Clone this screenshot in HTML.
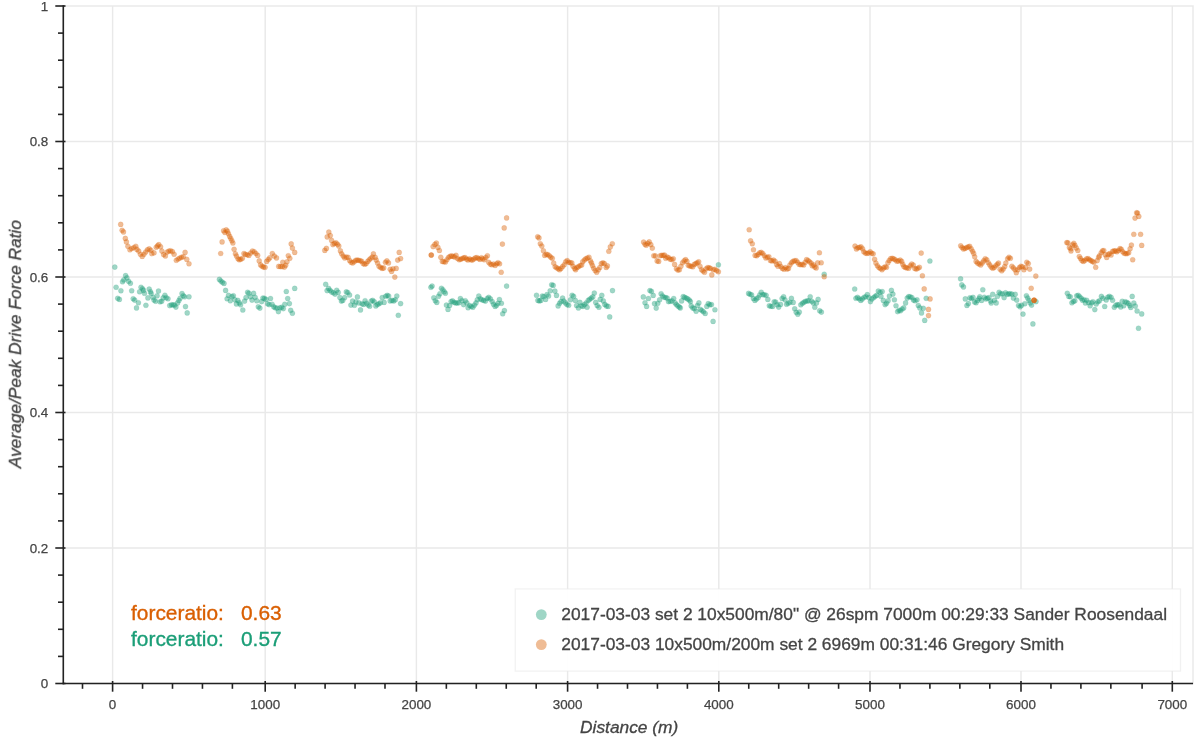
<!DOCTYPE html>
<html lang="en"><head><meta charset="utf-8"><title>Average/Peak Drive Force Ratio</title>
<style>html,body{margin:0;padding:0;background:#fff;}body{width:1199px;height:743px;overflow:hidden;}</style>
</head><body>
<svg width="1199" height="743" viewBox="0 0 1199 743" style="display:block;font-family:'Liberation Sans', Arial, Helvetica, sans-serif">
<defs><filter id="idf" x="0" y="0" width="100%" height="100%" filterUnits="userSpaceOnUse" color-interpolation-filters="sRGB"><feOffset dx="0" dy="0"/></filter></defs>
<rect x="0" y="0" width="1199" height="743" fill="#ffffff"/>
<g stroke="#e9e9e9" stroke-width="1.45" fill="none">
<line x1="112.60" y1="6.0" x2="112.60" y2="683.5"/>
<line x1="265.20" y1="6.0" x2="265.20" y2="683.5"/>
<line x1="416.40" y1="6.0" x2="416.40" y2="683.5"/>
<line x1="567.60" y1="6.0" x2="567.60" y2="683.5"/>
<line x1="718.80" y1="6.0" x2="718.80" y2="683.5"/>
<line x1="870.00" y1="6.0" x2="870.00" y2="683.5"/>
<line x1="1021.00" y1="6.0" x2="1021.00" y2="683.5"/>
<line x1="1172.30" y1="6.0" x2="1172.30" y2="683.5"/>
<line x1="63.3" y1="548.00" x2="1193.0" y2="548.00"/>
<line x1="63.3" y1="412.50" x2="1193.0" y2="412.50"/>
<line x1="63.3" y1="277.00" x2="1193.0" y2="277.00"/>
<line x1="63.3" y1="141.50" x2="1193.0" y2="141.50"/>
<rect x="63.3" y="6.0" width="1129.7" height="677.5"/>
</g>
<g fill="#1b9e77" fill-opacity="0.42" stroke="#1b9e77" stroke-opacity="0.16" stroke-width="0.7">
<circle cx="114.8" cy="267.1" r="2.55"/>
<circle cx="116.1" cy="287.2" r="2.55"/>
<circle cx="117.7" cy="298.3" r="2.55"/>
<circle cx="119.4" cy="299.4" r="2.55"/>
<circle cx="120.9" cy="290.7" r="2.55"/>
<circle cx="122.5" cy="281.7" r="2.55"/>
<circle cx="123.8" cy="279.9" r="2.55"/>
<circle cx="125.6" cy="275.6" r="2.55"/>
<circle cx="126.9" cy="277.9" r="2.55"/>
<circle cx="128.6" cy="281.2" r="2.55"/>
<circle cx="130.4" cy="283.2" r="2.55"/>
<circle cx="131.7" cy="290.7" r="2.55"/>
<circle cx="133.2" cy="298.7" r="2.55"/>
<circle cx="134.7" cy="300.1" r="2.55"/>
<circle cx="136.5" cy="307.9" r="2.55"/>
<circle cx="138.4" cy="302.7" r="2.55"/>
<circle cx="139.6" cy="291.7" r="2.55"/>
<circle cx="141.0" cy="287.2" r="2.55"/>
<circle cx="142.6" cy="288.7" r="2.55"/>
<circle cx="143.5" cy="290.4" r="2.55"/>
<circle cx="144.5" cy="293.3" r="2.55"/>
<circle cx="145.9" cy="305.3" r="2.55"/>
<circle cx="147.9" cy="297.9" r="2.55"/>
<circle cx="149.2" cy="289.1" r="2.55"/>
<circle cx="150.5" cy="291.7" r="2.55"/>
<circle cx="151.2" cy="293.5" r="2.55"/>
<circle cx="152.9" cy="297.2" r="2.55"/>
<circle cx="154.0" cy="300.1" r="2.55"/>
<circle cx="155.6" cy="301.2" r="2.55"/>
<circle cx="157.1" cy="295.7" r="2.55"/>
<circle cx="158.5" cy="291.0" r="2.55"/>
<circle cx="160.1" cy="301.8" r="2.55"/>
<circle cx="161.7" cy="301.2" r="2.55"/>
<circle cx="163.2" cy="297.9" r="2.55"/>
<circle cx="164.9" cy="295.2" r="2.55"/>
<circle cx="166.2" cy="297.7" r="2.55"/>
<circle cx="168.0" cy="298.7" r="2.55"/>
<circle cx="169.7" cy="305.6" r="2.55"/>
<circle cx="171.5" cy="304.7" r="2.55"/>
<circle cx="173.1" cy="304.9" r="2.55"/>
<circle cx="174.6" cy="305.0" r="2.55"/>
<circle cx="175.9" cy="307.1" r="2.55"/>
<circle cx="177.6" cy="302.9" r="2.55"/>
<circle cx="178.9" cy="300.5" r="2.55"/>
<circle cx="180.1" cy="298.3" r="2.55"/>
<circle cx="182.0" cy="293.5" r="2.55"/>
<circle cx="183.3" cy="295.7" r="2.55"/>
<circle cx="184.6" cy="296.8" r="2.55"/>
<circle cx="185.5" cy="306.6" r="2.55"/>
<circle cx="187.2" cy="312.9" r="2.55"/>
<circle cx="189.0" cy="296.8" r="2.55"/>
<circle cx="219.4" cy="279.4" r="2.55"/>
<circle cx="220.9" cy="281.0" r="2.55"/>
<circle cx="222.4" cy="282.3" r="2.55"/>
<circle cx="224.0" cy="283.4" r="2.55"/>
<circle cx="225.6" cy="290.4" r="2.55"/>
<circle cx="227.1" cy="298.7" r="2.55"/>
<circle cx="228.5" cy="295.4" r="2.55"/>
<circle cx="230.3" cy="300.7" r="2.55"/>
<circle cx="231.9" cy="296.6" r="2.55"/>
<circle cx="233.4" cy="295.7" r="2.55"/>
<circle cx="234.9" cy="299.8" r="2.55"/>
<circle cx="236.4" cy="303.9" r="2.55"/>
<circle cx="237.8" cy="300.4" r="2.55"/>
<circle cx="239.3" cy="302.9" r="2.55"/>
<circle cx="240.6" cy="304.8" r="2.55"/>
<circle cx="242.8" cy="310.0" r="2.55"/>
<circle cx="244.6" cy="301.1" r="2.55"/>
<circle cx="246.0" cy="297.6" r="2.55"/>
<circle cx="247.6" cy="292.2" r="2.55"/>
<circle cx="248.9" cy="293.2" r="2.55"/>
<circle cx="250.4" cy="296.7" r="2.55"/>
<circle cx="252.0" cy="300.1" r="2.55"/>
<circle cx="253.6" cy="293.4" r="2.55"/>
<circle cx="255.1" cy="297.2" r="2.55"/>
<circle cx="256.8" cy="300.7" r="2.55"/>
<circle cx="258.3" cy="306.8" r="2.55"/>
<circle cx="259.9" cy="308.1" r="2.55"/>
<circle cx="261.6" cy="301.6" r="2.55"/>
<circle cx="262.9" cy="298.1" r="2.55"/>
<circle cx="264.4" cy="298.3" r="2.55"/>
<circle cx="266.0" cy="299.4" r="2.55"/>
<circle cx="267.6" cy="303.7" r="2.55"/>
<circle cx="269.1" cy="304.6" r="2.55"/>
<circle cx="270.5" cy="298.5" r="2.55"/>
<circle cx="272.1" cy="304.2" r="2.55"/>
<circle cx="273.7" cy="306.8" r="2.55"/>
<circle cx="275.2" cy="307.7" r="2.55"/>
<circle cx="276.9" cy="308.1" r="2.55"/>
<circle cx="278.4" cy="311.6" r="2.55"/>
<circle cx="280.0" cy="307.7" r="2.55"/>
<circle cx="281.7" cy="307.2" r="2.55"/>
<circle cx="283.3" cy="308.6" r="2.55"/>
<circle cx="284.8" cy="304.2" r="2.55"/>
<circle cx="286.3" cy="291.5" r="2.55"/>
<circle cx="287.7" cy="298.5" r="2.55"/>
<circle cx="289.4" cy="303.6" r="2.55"/>
<circle cx="290.7" cy="310.3" r="2.55"/>
<circle cx="292.4" cy="313.2" r="2.55"/>
<circle cx="294.7" cy="288.4" r="2.55"/>
<circle cx="325.7" cy="284.3" r="2.55"/>
<circle cx="327.1" cy="290.6" r="2.55"/>
<circle cx="328.6" cy="288.4" r="2.55"/>
<circle cx="330.0" cy="290.2" r="2.55"/>
<circle cx="331.6" cy="291.9" r="2.55"/>
<circle cx="333.4" cy="292.8" r="2.55"/>
<circle cx="335.1" cy="294.1" r="2.55"/>
<circle cx="336.7" cy="290.2" r="2.55"/>
<circle cx="338.2" cy="292.4" r="2.55"/>
<circle cx="339.9" cy="297.6" r="2.55"/>
<circle cx="341.4" cy="301.1" r="2.55"/>
<circle cx="342.8" cy="300.4" r="2.55"/>
<circle cx="344.7" cy="297.6" r="2.55"/>
<circle cx="346.3" cy="291.9" r="2.55"/>
<circle cx="347.8" cy="292.5" r="2.55"/>
<circle cx="349.6" cy="295.0" r="2.55"/>
<circle cx="350.9" cy="305.1" r="2.55"/>
<circle cx="352.6" cy="301.1" r="2.55"/>
<circle cx="354.4" cy="305.3" r="2.55"/>
<circle cx="355.9" cy="302.0" r="2.55"/>
<circle cx="357.4" cy="296.9" r="2.55"/>
<circle cx="358.9" cy="302.9" r="2.55"/>
<circle cx="360.5" cy="309.9" r="2.55"/>
<circle cx="362.1" cy="303.7" r="2.55"/>
<circle cx="363.6" cy="304.4" r="2.55"/>
<circle cx="365.1" cy="300.7" r="2.55"/>
<circle cx="366.6" cy="303.3" r="2.55"/>
<circle cx="368.2" cy="305.1" r="2.55"/>
<circle cx="369.7" cy="306.2" r="2.55"/>
<circle cx="371.2" cy="301.1" r="2.55"/>
<circle cx="372.7" cy="300.4" r="2.55"/>
<circle cx="374.3" cy="301.8" r="2.55"/>
<circle cx="375.8" cy="305.9" r="2.55"/>
<circle cx="377.3" cy="304.6" r="2.55"/>
<circle cx="378.9" cy="303.7" r="2.55"/>
<circle cx="380.4" cy="302.7" r="2.55"/>
<circle cx="382.2" cy="297.6" r="2.55"/>
<circle cx="384.1" cy="302.4" r="2.55"/>
<circle cx="385.7" cy="296.3" r="2.55"/>
<circle cx="387.2" cy="295.4" r="2.55"/>
<circle cx="388.7" cy="296.0" r="2.55"/>
<circle cx="390.2" cy="300.9" r="2.55"/>
<circle cx="392.0" cy="300.4" r="2.55"/>
<circle cx="393.7" cy="300.9" r="2.55"/>
<circle cx="395.3" cy="299.8" r="2.55"/>
<circle cx="396.8" cy="296.0" r="2.55"/>
<circle cx="398.3" cy="315.3" r="2.55"/>
<circle cx="400.6" cy="303.6" r="2.55"/>
<circle cx="430.9" cy="287.3" r="2.55"/>
<circle cx="432.1" cy="286.1" r="2.55"/>
<circle cx="433.8" cy="297.8" r="2.55"/>
<circle cx="435.3" cy="300.7" r="2.55"/>
<circle cx="436.8" cy="302.4" r="2.55"/>
<circle cx="438.5" cy="296.3" r="2.55"/>
<circle cx="439.9" cy="293.7" r="2.55"/>
<circle cx="441.4" cy="288.2" r="2.55"/>
<circle cx="442.9" cy="289.7" r="2.55"/>
<circle cx="444.3" cy="291.7" r="2.55"/>
<circle cx="445.4" cy="293.2" r="2.55"/>
<circle cx="446.4" cy="305.1" r="2.55"/>
<circle cx="448.0" cy="309.4" r="2.55"/>
<circle cx="449.6" cy="305.5" r="2.55"/>
<circle cx="451.1" cy="301.6" r="2.55"/>
<circle cx="452.5" cy="300.9" r="2.55"/>
<circle cx="454.1" cy="302.4" r="2.55"/>
<circle cx="455.7" cy="303.0" r="2.55"/>
<circle cx="457.2" cy="302.9" r="2.55"/>
<circle cx="458.9" cy="302.7" r="2.55"/>
<circle cx="460.4" cy="298.5" r="2.55"/>
<circle cx="462.0" cy="300.7" r="2.55"/>
<circle cx="463.6" cy="304.6" r="2.55"/>
<circle cx="465.3" cy="300.7" r="2.55"/>
<circle cx="466.8" cy="302.9" r="2.55"/>
<circle cx="468.1" cy="307.7" r="2.55"/>
<circle cx="469.7" cy="305.5" r="2.55"/>
<circle cx="471.2" cy="306.5" r="2.55"/>
<circle cx="472.9" cy="307.2" r="2.55"/>
<circle cx="474.4" cy="305.1" r="2.55"/>
<circle cx="476.0" cy="302.9" r="2.55"/>
<circle cx="477.3" cy="299.8" r="2.55"/>
<circle cx="478.8" cy="296.0" r="2.55"/>
<circle cx="480.4" cy="298.9" r="2.55"/>
<circle cx="481.9" cy="299.8" r="2.55"/>
<circle cx="483.7" cy="300.4" r="2.55"/>
<circle cx="485.4" cy="301.1" r="2.55"/>
<circle cx="487.2" cy="298.5" r="2.55"/>
<circle cx="488.7" cy="297.4" r="2.55"/>
<circle cx="490.4" cy="298.9" r="2.55"/>
<circle cx="492.2" cy="301.6" r="2.55"/>
<circle cx="493.5" cy="304.2" r="2.55"/>
<circle cx="495.1" cy="306.4" r="2.55"/>
<circle cx="496.6" cy="305.3" r="2.55"/>
<circle cx="498.0" cy="303.3" r="2.55"/>
<circle cx="499.4" cy="299.5" r="2.55"/>
<circle cx="501.4" cy="303.3" r="2.55"/>
<circle cx="502.7" cy="313.8" r="2.55"/>
<circle cx="504.4" cy="310.6" r="2.55"/>
<circle cx="506.6" cy="286.1" r="2.55"/>
<circle cx="536.5" cy="295.2" r="2.55"/>
<circle cx="537.9" cy="300.4" r="2.55"/>
<circle cx="539.4" cy="300.9" r="2.55"/>
<circle cx="540.9" cy="300.4" r="2.55"/>
<circle cx="542.3" cy="296.0" r="2.55"/>
<circle cx="543.8" cy="296.6" r="2.55"/>
<circle cx="545.6" cy="299.4" r="2.55"/>
<circle cx="547.0" cy="294.6" r="2.55"/>
<circle cx="548.6" cy="296.0" r="2.55"/>
<circle cx="550.2" cy="290.8" r="2.55"/>
<circle cx="551.7" cy="284.7" r="2.55"/>
<circle cx="553.2" cy="285.4" r="2.55"/>
<circle cx="554.9" cy="291.1" r="2.55"/>
<circle cx="556.5" cy="295.4" r="2.55"/>
<circle cx="558.1" cy="305.9" r="2.55"/>
<circle cx="559.6" cy="303.3" r="2.55"/>
<circle cx="561.0" cy="301.6" r="2.55"/>
<circle cx="562.6" cy="298.1" r="2.55"/>
<circle cx="563.9" cy="301.1" r="2.55"/>
<circle cx="565.4" cy="302.9" r="2.55"/>
<circle cx="567.0" cy="304.6" r="2.55"/>
<circle cx="568.7" cy="305.3" r="2.55"/>
<circle cx="570.5" cy="299.8" r="2.55"/>
<circle cx="572.1" cy="295.2" r="2.55"/>
<circle cx="573.6" cy="296.3" r="2.55"/>
<circle cx="575.3" cy="300.4" r="2.55"/>
<circle cx="576.6" cy="305.5" r="2.55"/>
<circle cx="578.4" cy="307.9" r="2.55"/>
<circle cx="579.9" cy="302.4" r="2.55"/>
<circle cx="581.4" cy="305.7" r="2.55"/>
<circle cx="582.9" cy="306.4" r="2.55"/>
<circle cx="584.5" cy="304.6" r="2.55"/>
<circle cx="586.1" cy="303.0" r="2.55"/>
<circle cx="587.1" cy="307.2" r="2.55"/>
<circle cx="588.2" cy="300.4" r="2.55"/>
<circle cx="589.7" cy="299.2" r="2.55"/>
<circle cx="591.3" cy="298.1" r="2.55"/>
<circle cx="592.8" cy="296.9" r="2.55"/>
<circle cx="594.3" cy="293.1" r="2.55"/>
<circle cx="595.7" cy="302.4" r="2.55"/>
<circle cx="597.2" cy="305.5" r="2.55"/>
<circle cx="598.9" cy="307.2" r="2.55"/>
<circle cx="600.2" cy="299.4" r="2.55"/>
<circle cx="601.8" cy="295.4" r="2.55"/>
<circle cx="603.3" cy="300.9" r="2.55"/>
<circle cx="604.8" cy="304.4" r="2.55"/>
<circle cx="606.4" cy="305.9" r="2.55"/>
<circle cx="608.1" cy="306.4" r="2.55"/>
<circle cx="609.7" cy="316.9" r="2.55"/>
<circle cx="612.5" cy="290.6" r="2.55"/>
<circle cx="643.3" cy="296.9" r="2.55"/>
<circle cx="645.0" cy="302.7" r="2.55"/>
<circle cx="646.6" cy="306.4" r="2.55"/>
<circle cx="648.4" cy="298.5" r="2.55"/>
<circle cx="649.9" cy="290.6" r="2.55"/>
<circle cx="651.4" cy="291.3" r="2.55"/>
<circle cx="653.2" cy="295.4" r="2.55"/>
<circle cx="654.5" cy="303.6" r="2.55"/>
<circle cx="656.2" cy="308.1" r="2.55"/>
<circle cx="657.8" cy="303.3" r="2.55"/>
<circle cx="659.6" cy="299.8" r="2.55"/>
<circle cx="661.1" cy="293.7" r="2.55"/>
<circle cx="662.5" cy="296.0" r="2.55"/>
<circle cx="664.1" cy="297.2" r="2.55"/>
<circle cx="665.7" cy="297.6" r="2.55"/>
<circle cx="667.2" cy="298.1" r="2.55"/>
<circle cx="668.5" cy="301.6" r="2.55"/>
<circle cx="670.2" cy="301.3" r="2.55"/>
<circle cx="672.0" cy="300.9" r="2.55"/>
<circle cx="673.7" cy="298.5" r="2.55"/>
<circle cx="675.1" cy="302.9" r="2.55"/>
<circle cx="676.4" cy="304.6" r="2.55"/>
<circle cx="677.9" cy="305.9" r="2.55"/>
<circle cx="679.4" cy="307.1" r="2.55"/>
<circle cx="680.3" cy="307.9" r="2.55"/>
<circle cx="681.6" cy="300.9" r="2.55"/>
<circle cx="683.2" cy="296.6" r="2.55"/>
<circle cx="684.7" cy="297.4" r="2.55"/>
<circle cx="686.2" cy="298.1" r="2.55"/>
<circle cx="687.7" cy="298.9" r="2.55"/>
<circle cx="689.3" cy="300.1" r="2.55"/>
<circle cx="690.4" cy="301.6" r="2.55"/>
<circle cx="691.2" cy="305.9" r="2.55"/>
<circle cx="692.8" cy="307.9" r="2.55"/>
<circle cx="694.3" cy="308.6" r="2.55"/>
<circle cx="696.1" cy="311.2" r="2.55"/>
<circle cx="697.4" cy="305.5" r="2.55"/>
<circle cx="698.9" cy="302.9" r="2.55"/>
<circle cx="700.4" cy="309.4" r="2.55"/>
<circle cx="701.9" cy="310.6" r="2.55"/>
<circle cx="703.5" cy="311.8" r="2.55"/>
<circle cx="705.2" cy="313.5" r="2.55"/>
<circle cx="706.8" cy="306.4" r="2.55"/>
<circle cx="708.3" cy="303.6" r="2.55"/>
<circle cx="709.8" cy="304.8" r="2.55"/>
<circle cx="711.5" cy="304.6" r="2.55"/>
<circle cx="713.1" cy="321.4" r="2.55"/>
<circle cx="714.9" cy="309.7" r="2.55"/>
<circle cx="718.4" cy="264.8" r="2.55"/>
<circle cx="748.6" cy="293.4" r="2.55"/>
<circle cx="750.0" cy="294.3" r="2.55"/>
<circle cx="751.6" cy="294.8" r="2.55"/>
<circle cx="753.4" cy="298.5" r="2.55"/>
<circle cx="754.9" cy="300.4" r="2.55"/>
<circle cx="756.4" cy="298.9" r="2.55"/>
<circle cx="758.2" cy="297.6" r="2.55"/>
<circle cx="759.7" cy="295.0" r="2.55"/>
<circle cx="761.2" cy="292.2" r="2.55"/>
<circle cx="762.8" cy="294.6" r="2.55"/>
<circle cx="764.3" cy="294.8" r="2.55"/>
<circle cx="766.1" cy="295.2" r="2.55"/>
<circle cx="767.8" cy="299.4" r="2.55"/>
<circle cx="769.3" cy="305.7" r="2.55"/>
<circle cx="770.9" cy="306.2" r="2.55"/>
<circle cx="772.6" cy="306.4" r="2.55"/>
<circle cx="774.2" cy="301.8" r="2.55"/>
<circle cx="775.7" cy="302.0" r="2.55"/>
<circle cx="777.2" cy="304.8" r="2.55"/>
<circle cx="778.7" cy="307.1" r="2.55"/>
<circle cx="780.5" cy="304.4" r="2.55"/>
<circle cx="782.1" cy="298.5" r="2.55"/>
<circle cx="783.6" cy="296.7" r="2.55"/>
<circle cx="785.0" cy="299.8" r="2.55"/>
<circle cx="786.6" cy="304.2" r="2.55"/>
<circle cx="788.2" cy="303.3" r="2.55"/>
<circle cx="789.9" cy="302.2" r="2.55"/>
<circle cx="791.4" cy="298.3" r="2.55"/>
<circle cx="793.2" cy="302.4" r="2.55"/>
<circle cx="794.7" cy="308.8" r="2.55"/>
<circle cx="796.2" cy="312.3" r="2.55"/>
<circle cx="797.8" cy="314.2" r="2.55"/>
<circle cx="799.3" cy="312.1" r="2.55"/>
<circle cx="800.8" cy="304.8" r="2.55"/>
<circle cx="802.4" cy="303.3" r="2.55"/>
<circle cx="803.9" cy="302.2" r="2.55"/>
<circle cx="805.4" cy="301.3" r="2.55"/>
<circle cx="807.2" cy="300.9" r="2.55"/>
<circle cx="808.7" cy="300.7" r="2.55"/>
<circle cx="810.2" cy="296.7" r="2.55"/>
<circle cx="811.8" cy="301.3" r="2.55"/>
<circle cx="813.3" cy="302.9" r="2.55"/>
<circle cx="814.8" cy="307.2" r="2.55"/>
<circle cx="816.5" cy="302.9" r="2.55"/>
<circle cx="818.1" cy="299.4" r="2.55"/>
<circle cx="819.7" cy="310.7" r="2.55"/>
<circle cx="821.4" cy="312.1" r="2.55"/>
<circle cx="824.2" cy="274.2" r="2.55"/>
<circle cx="854.7" cy="289.0" r="2.55"/>
<circle cx="855.9" cy="298.3" r="2.55"/>
<circle cx="857.5" cy="297.4" r="2.55"/>
<circle cx="859.2" cy="298.7" r="2.55"/>
<circle cx="860.8" cy="300.4" r="2.55"/>
<circle cx="862.3" cy="298.9" r="2.55"/>
<circle cx="864.1" cy="297.2" r="2.55"/>
<circle cx="865.8" cy="296.7" r="2.55"/>
<circle cx="867.3" cy="294.6" r="2.55"/>
<circle cx="868.9" cy="297.6" r="2.55"/>
<circle cx="870.4" cy="301.6" r="2.55"/>
<circle cx="871.9" cy="298.9" r="2.55"/>
<circle cx="873.7" cy="297.6" r="2.55"/>
<circle cx="875.2" cy="296.3" r="2.55"/>
<circle cx="876.7" cy="295.4" r="2.55"/>
<circle cx="878.3" cy="291.1" r="2.55"/>
<circle cx="880.1" cy="292.2" r="2.55"/>
<circle cx="880.9" cy="296.3" r="2.55"/>
<circle cx="882.2" cy="291.5" r="2.55"/>
<circle cx="883.3" cy="300.4" r="2.55"/>
<circle cx="885.1" cy="304.6" r="2.55"/>
<circle cx="886.5" cy="303.3" r="2.55"/>
<circle cx="888.1" cy="300.7" r="2.55"/>
<circle cx="889.4" cy="296.0" r="2.55"/>
<circle cx="891.4" cy="290.4" r="2.55"/>
<circle cx="892.9" cy="294.1" r="2.55"/>
<circle cx="894.4" cy="299.8" r="2.55"/>
<circle cx="896.0" cy="305.7" r="2.55"/>
<circle cx="897.6" cy="311.6" r="2.55"/>
<circle cx="899.1" cy="310.3" r="2.55"/>
<circle cx="900.5" cy="310.7" r="2.55"/>
<circle cx="902.1" cy="309.0" r="2.55"/>
<circle cx="903.7" cy="307.9" r="2.55"/>
<circle cx="905.6" cy="302.9" r="2.55"/>
<circle cx="907.2" cy="298.1" r="2.55"/>
<circle cx="908.7" cy="296.6" r="2.55"/>
<circle cx="910.2" cy="296.7" r="2.55"/>
<circle cx="911.9" cy="297.6" r="2.55"/>
<circle cx="913.5" cy="300.1" r="2.55"/>
<circle cx="915.1" cy="300.7" r="2.55"/>
<circle cx="917.0" cy="299.8" r="2.55"/>
<circle cx="918.3" cy="305.5" r="2.55"/>
<circle cx="919.8" cy="307.9" r="2.55"/>
<circle cx="921.5" cy="312.9" r="2.55"/>
<circle cx="923.3" cy="308.3" r="2.55"/>
<circle cx="924.7" cy="320.4" r="2.55"/>
<circle cx="926.2" cy="298.3" r="2.55"/>
<circle cx="929.9" cy="261.0" r="2.55"/>
<circle cx="960.6" cy="278.8" r="2.55"/>
<circle cx="961.8" cy="284.9" r="2.55"/>
<circle cx="963.5" cy="286.9" r="2.55"/>
<circle cx="965.3" cy="298.9" r="2.55"/>
<circle cx="966.9" cy="305.5" r="2.55"/>
<circle cx="968.4" cy="303.6" r="2.55"/>
<circle cx="969.9" cy="297.8" r="2.55"/>
<circle cx="971.4" cy="298.5" r="2.55"/>
<circle cx="973.0" cy="297.4" r="2.55"/>
<circle cx="974.6" cy="302.0" r="2.55"/>
<circle cx="976.1" cy="302.7" r="2.55"/>
<circle cx="977.5" cy="300.4" r="2.55"/>
<circle cx="979.1" cy="298.5" r="2.55"/>
<circle cx="979.8" cy="296.7" r="2.55"/>
<circle cx="981.6" cy="300.4" r="2.55"/>
<circle cx="982.8" cy="289.7" r="2.55"/>
<circle cx="984.4" cy="297.2" r="2.55"/>
<circle cx="985.9" cy="298.9" r="2.55"/>
<circle cx="987.4" cy="298.3" r="2.55"/>
<circle cx="988.9" cy="297.6" r="2.55"/>
<circle cx="990.7" cy="301.1" r="2.55"/>
<circle cx="991.2" cy="303.0" r="2.55"/>
<circle cx="992.7" cy="294.3" r="2.55"/>
<circle cx="994.4" cy="300.2" r="2.55"/>
<circle cx="996.2" cy="302.9" r="2.55"/>
<circle cx="997.5" cy="296.3" r="2.55"/>
<circle cx="999.1" cy="292.2" r="2.55"/>
<circle cx="1000.6" cy="293.7" r="2.55"/>
<circle cx="1002.3" cy="293.7" r="2.55"/>
<circle cx="1004.1" cy="297.6" r="2.55"/>
<circle cx="1005.5" cy="292.8" r="2.55"/>
<circle cx="1007.1" cy="294.3" r="2.55"/>
<circle cx="1008.7" cy="293.9" r="2.55"/>
<circle cx="1010.2" cy="293.7" r="2.55"/>
<circle cx="1011.9" cy="294.1" r="2.55"/>
<circle cx="1013.4" cy="298.1" r="2.55"/>
<circle cx="1015.2" cy="294.3" r="2.55"/>
<circle cx="1016.7" cy="300.1" r="2.55"/>
<circle cx="1018.5" cy="305.5" r="2.55"/>
<circle cx="1020.1" cy="306.8" r="2.55"/>
<circle cx="1021.6" cy="305.3" r="2.55"/>
<circle cx="1023.0" cy="314.1" r="2.55"/>
<circle cx="1024.8" cy="303.7" r="2.55"/>
<circle cx="1026.4" cy="295.7" r="2.55"/>
<circle cx="1027.7" cy="298.1" r="2.55"/>
<circle cx="1029.0" cy="300.4" r="2.55"/>
<circle cx="1030.3" cy="302.9" r="2.55"/>
<circle cx="1031.6" cy="305.1" r="2.55"/>
<circle cx="1032.9" cy="323.9" r="2.55"/>
<circle cx="1036.0" cy="301.6" r="2.55"/>
<circle cx="1067.3" cy="293.2" r="2.55"/>
<circle cx="1068.8" cy="296.4" r="2.55"/>
<circle cx="1070.3" cy="296.7" r="2.55"/>
<circle cx="1071.9" cy="302.8" r="2.55"/>
<circle cx="1073.4" cy="301.4" r="2.55"/>
<circle cx="1074.9" cy="300.8" r="2.55"/>
<circle cx="1076.7" cy="295.8" r="2.55"/>
<circle cx="1078.2" cy="295.3" r="2.55"/>
<circle cx="1079.7" cy="296.7" r="2.55"/>
<circle cx="1081.3" cy="298.2" r="2.55"/>
<circle cx="1082.5" cy="300.2" r="2.55"/>
<circle cx="1084.1" cy="299.7" r="2.55"/>
<circle cx="1085.4" cy="303.0" r="2.55"/>
<circle cx="1086.7" cy="300.2" r="2.55"/>
<circle cx="1088.5" cy="302.6" r="2.55"/>
<circle cx="1090.1" cy="305.8" r="2.55"/>
<circle cx="1091.6" cy="302.8" r="2.55"/>
<circle cx="1092.9" cy="301.7" r="2.55"/>
<circle cx="1094.8" cy="309.6" r="2.55"/>
<circle cx="1096.2" cy="303.9" r="2.55"/>
<circle cx="1097.9" cy="301.7" r="2.55"/>
<circle cx="1099.4" cy="300.8" r="2.55"/>
<circle cx="1101.4" cy="296.4" r="2.55"/>
<circle cx="1102.9" cy="298.2" r="2.55"/>
<circle cx="1104.7" cy="306.5" r="2.55"/>
<circle cx="1106.2" cy="299.9" r="2.55"/>
<circle cx="1107.7" cy="297.3" r="2.55"/>
<circle cx="1109.3" cy="296.4" r="2.55"/>
<circle cx="1111.1" cy="297.3" r="2.55"/>
<circle cx="1112.6" cy="300.2" r="2.55"/>
<circle cx="1114.3" cy="307.2" r="2.55"/>
<circle cx="1115.8" cy="305.2" r="2.55"/>
<circle cx="1117.4" cy="304.6" r="2.55"/>
<circle cx="1118.9" cy="304.9" r="2.55"/>
<circle cx="1120.7" cy="306.9" r="2.55"/>
<circle cx="1122.2" cy="301.2" r="2.55"/>
<circle cx="1123.7" cy="305.8" r="2.55"/>
<circle cx="1125.1" cy="301.7" r="2.55"/>
<circle cx="1126.8" cy="302.3" r="2.55"/>
<circle cx="1128.3" cy="303.4" r="2.55"/>
<circle cx="1129.8" cy="305.6" r="2.55"/>
<circle cx="1130.7" cy="307.5" r="2.55"/>
<circle cx="1132.2" cy="296.4" r="2.55"/>
<circle cx="1133.8" cy="303.0" r="2.55"/>
<circle cx="1135.3" cy="306.1" r="2.55"/>
<circle cx="1137.1" cy="311.0" r="2.55"/>
<circle cx="1138.5" cy="328.2" r="2.55"/>
<circle cx="1141.7" cy="313.9" r="2.55"/>
</g>
<g fill="#d95f02" fill-opacity="0.42" stroke="#d95f02" stroke-opacity="0.16" stroke-width="0.7">
<circle cx="120.7" cy="224.4" r="2.55"/>
<circle cx="122.1" cy="230.3" r="2.55"/>
<circle cx="123.5" cy="231.9" r="2.55"/>
<circle cx="125.3" cy="238.4" r="2.55"/>
<circle cx="126.4" cy="241.9" r="2.55"/>
<circle cx="127.9" cy="246.3" r="2.55"/>
<circle cx="129.9" cy="249.8" r="2.55"/>
<circle cx="131.7" cy="248.5" r="2.55"/>
<circle cx="133.9" cy="247.6" r="2.55"/>
<circle cx="135.8" cy="246.3" r="2.55"/>
<circle cx="136.9" cy="249.4" r="2.55"/>
<circle cx="138.7" cy="251.1" r="2.55"/>
<circle cx="140.4" cy="254.2" r="2.55"/>
<circle cx="142.2" cy="256.4" r="2.55"/>
<circle cx="143.9" cy="254.2" r="2.55"/>
<circle cx="145.7" cy="252.0" r="2.55"/>
<circle cx="147.4" cy="249.8" r="2.55"/>
<circle cx="149.2" cy="248.9" r="2.55"/>
<circle cx="150.9" cy="250.2" r="2.55"/>
<circle cx="151.8" cy="253.7" r="2.55"/>
<circle cx="154.0" cy="252.9" r="2.55"/>
<circle cx="156.2" cy="247.2" r="2.55"/>
<circle cx="157.5" cy="245.9" r="2.55"/>
<circle cx="158.8" cy="244.6" r="2.55"/>
<circle cx="160.6" cy="246.7" r="2.55"/>
<circle cx="161.9" cy="251.1" r="2.55"/>
<circle cx="163.6" cy="254.6" r="2.55"/>
<circle cx="165.4" cy="255.9" r="2.55"/>
<circle cx="167.1" cy="252.0" r="2.55"/>
<circle cx="168.9" cy="251.1" r="2.55"/>
<circle cx="170.6" cy="250.7" r="2.55"/>
<circle cx="172.4" cy="251.6" r="2.55"/>
<circle cx="174.1" cy="254.2" r="2.55"/>
<circle cx="176.3" cy="260.3" r="2.55"/>
<circle cx="178.1" cy="259.0" r="2.55"/>
<circle cx="179.8" cy="258.1" r="2.55"/>
<circle cx="181.6" cy="257.2" r="2.55"/>
<circle cx="183.3" cy="256.8" r="2.55"/>
<circle cx="185.1" cy="252.4" r="2.55"/>
<circle cx="186.8" cy="259.4" r="2.55"/>
<circle cx="189.0" cy="263.8" r="2.55"/>
<circle cx="220.7" cy="253.5" r="2.55"/>
<circle cx="222.1" cy="241.9" r="2.55"/>
<circle cx="223.6" cy="230.7" r="2.55"/>
<circle cx="224.9" cy="232.5" r="2.55"/>
<circle cx="226.2" cy="229.9" r="2.55"/>
<circle cx="227.5" cy="231.2" r="2.55"/>
<circle cx="228.5" cy="233.8" r="2.55"/>
<circle cx="229.7" cy="236.4" r="2.55"/>
<circle cx="230.8" cy="238.6" r="2.55"/>
<circle cx="231.9" cy="240.8" r="2.55"/>
<circle cx="232.9" cy="243.0" r="2.55"/>
<circle cx="234.1" cy="249.3" r="2.55"/>
<circle cx="235.4" cy="253.9" r="2.55"/>
<circle cx="236.5" cy="256.1" r="2.55"/>
<circle cx="238.0" cy="258.7" r="2.55"/>
<circle cx="239.3" cy="259.8" r="2.55"/>
<circle cx="240.8" cy="259.2" r="2.55"/>
<circle cx="242.4" cy="258.3" r="2.55"/>
<circle cx="243.9" cy="253.5" r="2.55"/>
<circle cx="245.4" cy="254.4" r="2.55"/>
<circle cx="247.2" cy="254.8" r="2.55"/>
<circle cx="248.9" cy="255.4" r="2.55"/>
<circle cx="250.7" cy="253.1" r="2.55"/>
<circle cx="252.4" cy="251.0" r="2.55"/>
<circle cx="254.2" cy="251.7" r="2.55"/>
<circle cx="255.9" cy="253.5" r="2.55"/>
<circle cx="257.7" cy="255.4" r="2.55"/>
<circle cx="259.2" cy="260.9" r="2.55"/>
<circle cx="260.6" cy="264.9" r="2.55"/>
<circle cx="262.1" cy="266.2" r="2.55"/>
<circle cx="263.5" cy="267.1" r="2.55"/>
<circle cx="265.1" cy="267.3" r="2.55"/>
<circle cx="266.7" cy="261.4" r="2.55"/>
<circle cx="268.2" cy="259.6" r="2.55"/>
<circle cx="269.7" cy="257.9" r="2.55"/>
<circle cx="272.3" cy="253.5" r="2.55"/>
<circle cx="274.3" cy="256.1" r="2.55"/>
<circle cx="276.5" cy="257.9" r="2.55"/>
<circle cx="278.7" cy="266.4" r="2.55"/>
<circle cx="280.4" cy="266.6" r="2.55"/>
<circle cx="282.2" cy="266.6" r="2.55"/>
<circle cx="282.8" cy="262.2" r="2.55"/>
<circle cx="284.4" cy="267.1" r="2.55"/>
<circle cx="285.7" cy="265.3" r="2.55"/>
<circle cx="287.0" cy="261.8" r="2.55"/>
<circle cx="288.3" cy="255.7" r="2.55"/>
<circle cx="289.8" cy="258.3" r="2.55"/>
<circle cx="291.2" cy="243.9" r="2.55"/>
<circle cx="292.4" cy="248.1" r="2.55"/>
<circle cx="294.7" cy="252.4" r="2.55"/>
<circle cx="324.8" cy="250.4" r="2.55"/>
<circle cx="326.4" cy="248.4" r="2.55"/>
<circle cx="327.2" cy="236.9" r="2.55"/>
<circle cx="328.8" cy="232.1" r="2.55"/>
<circle cx="330.3" cy="235.6" r="2.55"/>
<circle cx="331.6" cy="240.4" r="2.55"/>
<circle cx="332.9" cy="244.6" r="2.55"/>
<circle cx="334.4" cy="243.4" r="2.55"/>
<circle cx="336.0" cy="242.8" r="2.55"/>
<circle cx="337.6" cy="244.3" r="2.55"/>
<circle cx="338.8" cy="246.1" r="2.55"/>
<circle cx="340.4" cy="250.9" r="2.55"/>
<circle cx="341.7" cy="253.9" r="2.55"/>
<circle cx="343.2" cy="256.1" r="2.55"/>
<circle cx="344.7" cy="257.9" r="2.55"/>
<circle cx="346.3" cy="257.0" r="2.55"/>
<circle cx="348.1" cy="257.4" r="2.55"/>
<circle cx="349.6" cy="260.5" r="2.55"/>
<circle cx="351.0" cy="262.2" r="2.55"/>
<circle cx="352.6" cy="262.9" r="2.55"/>
<circle cx="354.2" cy="261.8" r="2.55"/>
<circle cx="355.7" cy="260.3" r="2.55"/>
<circle cx="357.2" cy="260.1" r="2.55"/>
<circle cx="358.7" cy="260.3" r="2.55"/>
<circle cx="360.3" cy="260.7" r="2.55"/>
<circle cx="361.8" cy="261.2" r="2.55"/>
<circle cx="363.1" cy="263.6" r="2.55"/>
<circle cx="364.7" cy="264.2" r="2.55"/>
<circle cx="366.2" cy="263.6" r="2.55"/>
<circle cx="367.8" cy="261.4" r="2.55"/>
<circle cx="369.2" cy="259.8" r="2.55"/>
<circle cx="370.8" cy="258.3" r="2.55"/>
<circle cx="372.3" cy="257.0" r="2.55"/>
<circle cx="373.4" cy="253.9" r="2.55"/>
<circle cx="375.2" cy="257.4" r="2.55"/>
<circle cx="376.2" cy="260.1" r="2.55"/>
<circle cx="377.6" cy="263.1" r="2.55"/>
<circle cx="379.0" cy="266.2" r="2.55"/>
<circle cx="380.6" cy="267.5" r="2.55"/>
<circle cx="382.2" cy="268.4" r="2.55"/>
<circle cx="383.7" cy="267.9" r="2.55"/>
<circle cx="385.4" cy="262.2" r="2.55"/>
<circle cx="386.9" cy="260.9" r="2.55"/>
<circle cx="388.5" cy="262.9" r="2.55"/>
<circle cx="390.2" cy="269.2" r="2.55"/>
<circle cx="391.6" cy="271.4" r="2.55"/>
<circle cx="393.0" cy="268.8" r="2.55"/>
<circle cx="394.8" cy="277.1" r="2.55"/>
<circle cx="396.2" cy="268.4" r="2.55"/>
<circle cx="397.7" cy="260.1" r="2.55"/>
<circle cx="399.2" cy="252.4" r="2.55"/>
<circle cx="400.6" cy="258.6" r="2.55"/>
<circle cx="431.2" cy="255.0" r="2.55"/>
<circle cx="431.3" cy="255.1" r="2.55"/>
<circle cx="433.1" cy="246.6" r="2.55"/>
<circle cx="434.9" cy="244.4" r="2.55"/>
<circle cx="436.4" cy="243.1" r="2.55"/>
<circle cx="437.9" cy="247.4" r="2.55"/>
<circle cx="439.4" cy="250.5" r="2.55"/>
<circle cx="440.8" cy="257.3" r="2.55"/>
<circle cx="442.3" cy="261.4" r="2.55"/>
<circle cx="443.8" cy="261.7" r="2.55"/>
<circle cx="445.4" cy="262.0" r="2.55"/>
<circle cx="446.9" cy="259.7" r="2.55"/>
<circle cx="448.4" cy="257.5" r="2.55"/>
<circle cx="449.9" cy="256.4" r="2.55"/>
<circle cx="451.5" cy="255.9" r="2.55"/>
<circle cx="453.1" cy="256.4" r="2.55"/>
<circle cx="454.6" cy="257.1" r="2.55"/>
<circle cx="456.0" cy="255.3" r="2.55"/>
<circle cx="457.6" cy="258.5" r="2.55"/>
<circle cx="459.2" cy="259.7" r="2.55"/>
<circle cx="460.7" cy="259.2" r="2.55"/>
<circle cx="462.2" cy="258.5" r="2.55"/>
<circle cx="463.7" cy="257.9" r="2.55"/>
<circle cx="465.1" cy="257.5" r="2.55"/>
<circle cx="466.5" cy="259.1" r="2.55"/>
<circle cx="467.9" cy="259.9" r="2.55"/>
<circle cx="469.4" cy="258.8" r="2.55"/>
<circle cx="470.9" cy="259.7" r="2.55"/>
<circle cx="472.3" cy="260.1" r="2.55"/>
<circle cx="473.8" cy="259.1" r="2.55"/>
<circle cx="475.3" cy="257.9" r="2.55"/>
<circle cx="476.9" cy="257.5" r="2.55"/>
<circle cx="478.4" cy="258.5" r="2.55"/>
<circle cx="479.9" cy="259.4" r="2.55"/>
<circle cx="481.4" cy="257.7" r="2.55"/>
<circle cx="482.8" cy="258.8" r="2.55"/>
<circle cx="484.3" cy="259.7" r="2.55"/>
<circle cx="485.8" cy="257.5" r="2.55"/>
<circle cx="487.4" cy="255.7" r="2.55"/>
<circle cx="488.7" cy="262.3" r="2.55"/>
<circle cx="490.2" cy="264.1" r="2.55"/>
<circle cx="491.7" cy="264.7" r="2.55"/>
<circle cx="493.5" cy="264.1" r="2.55"/>
<circle cx="495.1" cy="265.5" r="2.55"/>
<circle cx="496.6" cy="263.8" r="2.55"/>
<circle cx="498.0" cy="262.7" r="2.55"/>
<circle cx="499.6" cy="263.8" r="2.55"/>
<circle cx="501.2" cy="272.2" r="2.55"/>
<circle cx="502.4" cy="244.1" r="2.55"/>
<circle cx="504.2" cy="227.9" r="2.55"/>
<circle cx="506.6" cy="217.9" r="2.55"/>
<circle cx="537.7" cy="236.7" r="2.55"/>
<circle cx="539.0" cy="237.9" r="2.55"/>
<circle cx="540.3" cy="243.7" r="2.55"/>
<circle cx="541.8" cy="246.1" r="2.55"/>
<circle cx="543.4" cy="250.7" r="2.55"/>
<circle cx="544.7" cy="255.4" r="2.55"/>
<circle cx="546.2" cy="254.2" r="2.55"/>
<circle cx="547.7" cy="254.5" r="2.55"/>
<circle cx="549.3" cy="255.7" r="2.55"/>
<circle cx="550.8" cy="257.2" r="2.55"/>
<circle cx="552.3" cy="258.3" r="2.55"/>
<circle cx="553.7" cy="263.1" r="2.55"/>
<circle cx="555.2" cy="266.8" r="2.55"/>
<circle cx="556.7" cy="267.7" r="2.55"/>
<circle cx="558.2" cy="268.8" r="2.55"/>
<circle cx="559.6" cy="269.7" r="2.55"/>
<circle cx="561.0" cy="268.4" r="2.55"/>
<circle cx="562.6" cy="266.6" r="2.55"/>
<circle cx="564.2" cy="264.7" r="2.55"/>
<circle cx="565.7" cy="261.8" r="2.55"/>
<circle cx="567.2" cy="260.5" r="2.55"/>
<circle cx="568.7" cy="262.2" r="2.55"/>
<circle cx="570.3" cy="262.7" r="2.55"/>
<circle cx="571.8" cy="262.9" r="2.55"/>
<circle cx="573.1" cy="266.2" r="2.55"/>
<circle cx="574.7" cy="268.4" r="2.55"/>
<circle cx="575.6" cy="269.7" r="2.55"/>
<circle cx="577.1" cy="267.5" r="2.55"/>
<circle cx="578.5" cy="266.6" r="2.55"/>
<circle cx="580.1" cy="265.6" r="2.55"/>
<circle cx="581.7" cy="265.0" r="2.55"/>
<circle cx="582.7" cy="261.8" r="2.55"/>
<circle cx="584.3" cy="260.1" r="2.55"/>
<circle cx="585.8" cy="258.7" r="2.55"/>
<circle cx="587.3" cy="258.0" r="2.55"/>
<circle cx="589.0" cy="257.2" r="2.55"/>
<circle cx="590.4" cy="260.9" r="2.55"/>
<circle cx="591.5" cy="262.9" r="2.55"/>
<circle cx="592.5" cy="265.6" r="2.55"/>
<circle cx="593.7" cy="268.2" r="2.55"/>
<circle cx="595.2" cy="270.6" r="2.55"/>
<circle cx="596.7" cy="272.3" r="2.55"/>
<circle cx="598.3" cy="269.7" r="2.55"/>
<circle cx="599.8" cy="267.5" r="2.55"/>
<circle cx="601.3" cy="263.6" r="2.55"/>
<circle cx="602.9" cy="262.9" r="2.55"/>
<circle cx="604.4" cy="263.6" r="2.55"/>
<circle cx="606.2" cy="267.5" r="2.55"/>
<circle cx="607.4" cy="265.9" r="2.55"/>
<circle cx="608.8" cy="251.3" r="2.55"/>
<circle cx="610.3" cy="246.9" r="2.55"/>
<circle cx="612.3" cy="243.7" r="2.55"/>
<circle cx="643.6" cy="242.1" r="2.55"/>
<circle cx="645.0" cy="244.3" r="2.55"/>
<circle cx="646.2" cy="245.2" r="2.55"/>
<circle cx="647.7" cy="243.4" r="2.55"/>
<circle cx="649.2" cy="241.9" r="2.55"/>
<circle cx="650.8" cy="244.6" r="2.55"/>
<circle cx="652.3" cy="248.1" r="2.55"/>
<circle cx="653.8" cy="255.7" r="2.55"/>
<circle cx="655.4" cy="255.9" r="2.55"/>
<circle cx="657.1" cy="260.9" r="2.55"/>
<circle cx="658.7" cy="261.4" r="2.55"/>
<circle cx="660.2" cy="255.7" r="2.55"/>
<circle cx="661.7" cy="255.2" r="2.55"/>
<circle cx="663.2" cy="255.4" r="2.55"/>
<circle cx="664.6" cy="255.1" r="2.55"/>
<circle cx="665.7" cy="258.3" r="2.55"/>
<circle cx="667.2" cy="257.0" r="2.55"/>
<circle cx="668.7" cy="257.7" r="2.55"/>
<circle cx="670.2" cy="259.2" r="2.55"/>
<circle cx="671.8" cy="259.6" r="2.55"/>
<circle cx="673.3" cy="258.7" r="2.55"/>
<circle cx="674.6" cy="264.4" r="2.55"/>
<circle cx="676.4" cy="268.8" r="2.55"/>
<circle cx="677.9" cy="270.1" r="2.55"/>
<circle cx="679.4" cy="269.7" r="2.55"/>
<circle cx="680.9" cy="266.2" r="2.55"/>
<circle cx="682.5" cy="262.7" r="2.55"/>
<circle cx="684.1" cy="260.9" r="2.55"/>
<circle cx="685.6" cy="259.6" r="2.55"/>
<circle cx="686.9" cy="261.4" r="2.55"/>
<circle cx="688.2" cy="265.3" r="2.55"/>
<circle cx="689.7" cy="265.9" r="2.55"/>
<circle cx="691.2" cy="266.2" r="2.55"/>
<circle cx="692.8" cy="266.8" r="2.55"/>
<circle cx="694.3" cy="264.4" r="2.55"/>
<circle cx="695.8" cy="263.6" r="2.55"/>
<circle cx="697.2" cy="262.7" r="2.55"/>
<circle cx="698.7" cy="261.8" r="2.55"/>
<circle cx="700.0" cy="266.2" r="2.55"/>
<circle cx="701.6" cy="269.7" r="2.55"/>
<circle cx="703.1" cy="271.0" r="2.55"/>
<circle cx="704.5" cy="272.3" r="2.55"/>
<circle cx="706.1" cy="268.8" r="2.55"/>
<circle cx="707.7" cy="267.5" r="2.55"/>
<circle cx="709.2" cy="267.9" r="2.55"/>
<circle cx="710.5" cy="268.4" r="2.55"/>
<circle cx="711.8" cy="274.9" r="2.55"/>
<circle cx="713.3" cy="269.7" r="2.55"/>
<circle cx="714.9" cy="269.2" r="2.55"/>
<circle cx="716.6" cy="270.6" r="2.55"/>
<circle cx="718.4" cy="271.7" r="2.55"/>
<circle cx="749.2" cy="229.7" r="2.55"/>
<circle cx="750.6" cy="240.8" r="2.55"/>
<circle cx="752.3" cy="243.7" r="2.55"/>
<circle cx="753.5" cy="249.8" r="2.55"/>
<circle cx="755.1" cy="255.4" r="2.55"/>
<circle cx="756.7" cy="255.7" r="2.55"/>
<circle cx="758.2" cy="254.4" r="2.55"/>
<circle cx="759.7" cy="252.8" r="2.55"/>
<circle cx="761.2" cy="252.4" r="2.55"/>
<circle cx="762.8" cy="253.5" r="2.55"/>
<circle cx="764.3" cy="255.7" r="2.55"/>
<circle cx="765.8" cy="257.9" r="2.55"/>
<circle cx="767.4" cy="257.2" r="2.55"/>
<circle cx="768.9" cy="256.8" r="2.55"/>
<circle cx="770.4" cy="260.5" r="2.55"/>
<circle cx="771.9" cy="260.9" r="2.55"/>
<circle cx="773.5" cy="260.1" r="2.55"/>
<circle cx="775.1" cy="261.2" r="2.55"/>
<circle cx="776.6" cy="264.4" r="2.55"/>
<circle cx="777.9" cy="266.2" r="2.55"/>
<circle cx="779.4" cy="263.6" r="2.55"/>
<circle cx="780.9" cy="266.6" r="2.55"/>
<circle cx="782.4" cy="268.4" r="2.55"/>
<circle cx="784.0" cy="269.2" r="2.55"/>
<circle cx="785.6" cy="267.5" r="2.55"/>
<circle cx="787.1" cy="269.1" r="2.55"/>
<circle cx="788.5" cy="268.4" r="2.55"/>
<circle cx="789.9" cy="265.0" r="2.55"/>
<circle cx="791.4" cy="262.7" r="2.55"/>
<circle cx="792.9" cy="261.4" r="2.55"/>
<circle cx="794.5" cy="260.7" r="2.55"/>
<circle cx="796.1" cy="260.5" r="2.55"/>
<circle cx="797.6" cy="262.2" r="2.55"/>
<circle cx="799.0" cy="264.2" r="2.55"/>
<circle cx="800.6" cy="264.7" r="2.55"/>
<circle cx="802.2" cy="264.4" r="2.55"/>
<circle cx="803.7" cy="265.0" r="2.55"/>
<circle cx="805.2" cy="262.2" r="2.55"/>
<circle cx="806.6" cy="259.6" r="2.55"/>
<circle cx="808.1" cy="260.5" r="2.55"/>
<circle cx="809.5" cy="261.8" r="2.55"/>
<circle cx="811.1" cy="263.1" r="2.55"/>
<circle cx="812.2" cy="265.7" r="2.55"/>
<circle cx="813.6" cy="264.9" r="2.55"/>
<circle cx="814.8" cy="267.1" r="2.55"/>
<circle cx="816.2" cy="267.9" r="2.55"/>
<circle cx="817.7" cy="262.9" r="2.55"/>
<circle cx="819.4" cy="252.8" r="2.55"/>
<circle cx="821.2" cy="262.7" r="2.55"/>
<circle cx="824.2" cy="276.7" r="2.55"/>
<circle cx="855.0" cy="246.1" r="2.55"/>
<circle cx="856.4" cy="248.9" r="2.55"/>
<circle cx="857.9" cy="247.8" r="2.55"/>
<circle cx="859.4" cy="247.4" r="2.55"/>
<circle cx="861.0" cy="246.9" r="2.55"/>
<circle cx="862.6" cy="248.7" r="2.55"/>
<circle cx="863.8" cy="251.7" r="2.55"/>
<circle cx="865.4" cy="253.1" r="2.55"/>
<circle cx="866.9" cy="253.5" r="2.55"/>
<circle cx="868.4" cy="253.1" r="2.55"/>
<circle cx="870.2" cy="251.7" r="2.55"/>
<circle cx="871.7" cy="253.3" r="2.55"/>
<circle cx="873.2" cy="253.9" r="2.55"/>
<circle cx="874.6" cy="259.2" r="2.55"/>
<circle cx="875.9" cy="263.1" r="2.55"/>
<circle cx="877.4" cy="265.7" r="2.55"/>
<circle cx="878.9" cy="267.5" r="2.55"/>
<circle cx="880.4" cy="268.5" r="2.55"/>
<circle cx="882.0" cy="269.7" r="2.55"/>
<circle cx="883.6" cy="267.9" r="2.55"/>
<circle cx="885.1" cy="266.8" r="2.55"/>
<circle cx="886.5" cy="267.3" r="2.55"/>
<circle cx="887.9" cy="262.7" r="2.55"/>
<circle cx="889.2" cy="260.5" r="2.55"/>
<circle cx="890.7" cy="258.6" r="2.55"/>
<circle cx="892.3" cy="258.3" r="2.55"/>
<circle cx="893.8" cy="258.9" r="2.55"/>
<circle cx="895.3" cy="259.8" r="2.55"/>
<circle cx="896.9" cy="261.2" r="2.55"/>
<circle cx="898.4" cy="260.9" r="2.55"/>
<circle cx="900.2" cy="260.1" r="2.55"/>
<circle cx="901.7" cy="261.4" r="2.55"/>
<circle cx="902.8" cy="264.2" r="2.55"/>
<circle cx="903.9" cy="266.6" r="2.55"/>
<circle cx="905.4" cy="267.5" r="2.55"/>
<circle cx="906.9" cy="267.9" r="2.55"/>
<circle cx="908.7" cy="268.2" r="2.55"/>
<circle cx="910.2" cy="265.7" r="2.55"/>
<circle cx="911.7" cy="264.0" r="2.55"/>
<circle cx="913.3" cy="265.0" r="2.55"/>
<circle cx="914.8" cy="268.5" r="2.55"/>
<circle cx="916.3" cy="269.1" r="2.55"/>
<circle cx="917.9" cy="268.2" r="2.55"/>
<circle cx="919.4" cy="267.3" r="2.55"/>
<circle cx="921.2" cy="253.1" r="2.55"/>
<circle cx="922.4" cy="275.8" r="2.55"/>
<circle cx="924.2" cy="288.9" r="2.55"/>
<circle cx="930.1" cy="298.9" r="2.55"/>
<circle cx="928.5" cy="309.4" r="2.55"/>
<circle cx="928.5" cy="315.6" r="2.55"/>
<circle cx="960.7" cy="245.8" r="2.55"/>
<circle cx="962.1" cy="247.5" r="2.55"/>
<circle cx="963.5" cy="248.9" r="2.55"/>
<circle cx="965.1" cy="248.4" r="2.55"/>
<circle cx="966.7" cy="247.5" r="2.55"/>
<circle cx="968.2" cy="246.9" r="2.55"/>
<circle cx="969.7" cy="246.3" r="2.55"/>
<circle cx="971.2" cy="248.9" r="2.55"/>
<circle cx="972.6" cy="251.3" r="2.55"/>
<circle cx="973.7" cy="253.5" r="2.55"/>
<circle cx="974.7" cy="256.8" r="2.55"/>
<circle cx="976.1" cy="261.4" r="2.55"/>
<circle cx="977.5" cy="262.9" r="2.55"/>
<circle cx="979.1" cy="264.0" r="2.55"/>
<circle cx="980.7" cy="265.0" r="2.55"/>
<circle cx="982.2" cy="262.9" r="2.55"/>
<circle cx="983.7" cy="260.9" r="2.55"/>
<circle cx="985.2" cy="258.7" r="2.55"/>
<circle cx="986.8" cy="259.8" r="2.55"/>
<circle cx="988.3" cy="262.7" r="2.55"/>
<circle cx="989.8" cy="264.9" r="2.55"/>
<circle cx="991.2" cy="267.1" r="2.55"/>
<circle cx="992.7" cy="268.2" r="2.55"/>
<circle cx="994.2" cy="267.5" r="2.55"/>
<circle cx="995.7" cy="265.7" r="2.55"/>
<circle cx="997.3" cy="264.2" r="2.55"/>
<circle cx="998.5" cy="263.1" r="2.55"/>
<circle cx="1000.1" cy="269.2" r="2.55"/>
<circle cx="1001.7" cy="270.8" r="2.55"/>
<circle cx="1003.2" cy="269.1" r="2.55"/>
<circle cx="1004.7" cy="266.6" r="2.55"/>
<circle cx="1005.8" cy="263.1" r="2.55"/>
<circle cx="1007.6" cy="258.7" r="2.55"/>
<circle cx="1009.0" cy="257.2" r="2.55"/>
<circle cx="1010.4" cy="258.3" r="2.55"/>
<circle cx="1011.9" cy="266.2" r="2.55"/>
<circle cx="1013.4" cy="267.9" r="2.55"/>
<circle cx="1015.0" cy="269.7" r="2.55"/>
<circle cx="1016.3" cy="272.7" r="2.55"/>
<circle cx="1017.8" cy="269.7" r="2.55"/>
<circle cx="1019.4" cy="267.5" r="2.55"/>
<circle cx="1020.9" cy="266.2" r="2.55"/>
<circle cx="1022.4" cy="266.8" r="2.55"/>
<circle cx="1023.9" cy="269.7" r="2.55"/>
<circle cx="1025.5" cy="267.5" r="2.55"/>
<circle cx="1026.8" cy="262.2" r="2.55"/>
<circle cx="1028.3" cy="263.6" r="2.55"/>
<circle cx="1029.7" cy="269.1" r="2.55"/>
<circle cx="1035.8" cy="276.1" r="2.55"/>
<circle cx="1031.2" cy="288.2" r="2.55"/>
<circle cx="1034.1" cy="300.2" r="2.55"/>
<circle cx="1033.9" cy="300.4" r="2.55"/>
<circle cx="1034.2" cy="300.1" r="2.55"/>
<circle cx="1066.8" cy="242.6" r="2.55"/>
<circle cx="1067.9" cy="242.8" r="2.55"/>
<circle cx="1069.4" cy="247.4" r="2.55"/>
<circle cx="1070.8" cy="248.7" r="2.55"/>
<circle cx="1071.0" cy="250.9" r="2.55"/>
<circle cx="1072.6" cy="244.8" r="2.55"/>
<circle cx="1073.8" cy="243.3" r="2.55"/>
<circle cx="1074.9" cy="245.4" r="2.55"/>
<circle cx="1076.2" cy="247.9" r="2.55"/>
<circle cx="1077.8" cy="250.5" r="2.55"/>
<circle cx="1079.3" cy="256.6" r="2.55"/>
<circle cx="1080.6" cy="258.5" r="2.55"/>
<circle cx="1081.9" cy="260.6" r="2.55"/>
<circle cx="1083.4" cy="261.4" r="2.55"/>
<circle cx="1085.0" cy="260.3" r="2.55"/>
<circle cx="1086.6" cy="258.8" r="2.55"/>
<circle cx="1088.1" cy="258.5" r="2.55"/>
<circle cx="1089.5" cy="259.7" r="2.55"/>
<circle cx="1090.9" cy="260.6" r="2.55"/>
<circle cx="1092.4" cy="261.4" r="2.55"/>
<circle cx="1093.9" cy="262.3" r="2.55"/>
<circle cx="1095.7" cy="267.3" r="2.55"/>
<circle cx="1097.2" cy="260.6" r="2.55"/>
<circle cx="1098.6" cy="257.3" r="2.55"/>
<circle cx="1099.4" cy="255.9" r="2.55"/>
<circle cx="1101.2" cy="252.7" r="2.55"/>
<circle cx="1102.5" cy="250.9" r="2.55"/>
<circle cx="1103.8" cy="250.5" r="2.55"/>
<circle cx="1105.3" cy="254.7" r="2.55"/>
<circle cx="1106.7" cy="257.5" r="2.55"/>
<circle cx="1108.2" cy="254.4" r="2.55"/>
<circle cx="1109.7" cy="253.6" r="2.55"/>
<circle cx="1111.1" cy="255.0" r="2.55"/>
<circle cx="1112.6" cy="251.4" r="2.55"/>
<circle cx="1114.0" cy="250.9" r="2.55"/>
<circle cx="1115.4" cy="250.9" r="2.55"/>
<circle cx="1116.9" cy="251.8" r="2.55"/>
<circle cx="1118.4" cy="250.5" r="2.55"/>
<circle cx="1120.0" cy="248.6" r="2.55"/>
<circle cx="1121.3" cy="249.2" r="2.55"/>
<circle cx="1122.8" cy="251.8" r="2.55"/>
<circle cx="1124.2" cy="253.3" r="2.55"/>
<circle cx="1125.7" cy="253.8" r="2.55"/>
<circle cx="1127.2" cy="253.6" r="2.55"/>
<circle cx="1128.7" cy="252.7" r="2.55"/>
<circle cx="1130.1" cy="248.7" r="2.55"/>
<circle cx="1131.4" cy="245.1" r="2.55"/>
<circle cx="1132.7" cy="259.7" r="2.55"/>
<circle cx="1133.8" cy="234.3" r="2.55"/>
<circle cx="1135.0" cy="218.1" r="2.55"/>
<circle cx="1136.6" cy="212.7" r="2.55"/>
<circle cx="1137.5" cy="213.0" r="2.55"/>
<circle cx="1138.8" cy="216.4" r="2.55"/>
<circle cx="1140.6" cy="234.3" r="2.55"/>
<circle cx="1141.7" cy="245.4" r="2.55"/>
</g>
<g font-size="20.9px" stroke-width="0.35" filter="url(#idf)">
<text x="131.0" y="619.7" fill="#d95f02" stroke="#d95f02">forceratio:</text><text x="241.0" y="619.7" fill="#d95f02" stroke="#d95f02">0.63</text>
<text x="131.0" y="646.1" fill="#1b9e77" stroke="#1b9e77">forceratio:</text><text x="241.0" y="646.1" fill="#1b9e77" stroke="#1b9e77">0.57</text>
</g>
<rect x="515.2" y="588.9" width="665.3" height="82.2" fill="#ffffff" fill-opacity="0.95" stroke="#e5e5e5" stroke-opacity="0.55" stroke-width="1.2"/>
<circle cx="541.3" cy="614.6" r="5.4" fill="#1b9e77" fill-opacity="0.42"/>
<circle cx="541.3" cy="644.6" r="5.4" fill="#d95f02" fill-opacity="0.42"/>
<g font-size="17.37px" fill="#444444" stroke="#444444" stroke-width="0.3" filter="url(#idf)">
<text x="561.3" y="619.6">2017-03-03 set 2 10x500m/80" @ 26spm 7000m 00:29:33 Sander Roosendaal</text>
<text x="561.3" y="649.6">2017-03-03 10x500m/200m set 2 6969m 00:31:46 Gregory Smith</text>
</g>
<g stroke="#222222" stroke-width="1.6" fill="none">
<line x1="63.3" y1="5.3" x2="63.3" y2="684.2"/>
<line x1="62.599999999999994" y1="683.5" x2="1193.0" y2="683.5"/>
<line x1="112.60" y1="681.0" x2="112.60" y2="691.7"/>
<line x1="142.55" y1="683.5" x2="142.55" y2="688.8"/>
<line x1="172.50" y1="683.5" x2="172.50" y2="688.8"/>
<line x1="202.45" y1="683.5" x2="202.45" y2="688.8"/>
<line x1="232.40" y1="683.5" x2="232.40" y2="688.8"/>
<line x1="265.20" y1="681.0" x2="265.20" y2="691.7"/>
<line x1="295.15" y1="683.5" x2="295.15" y2="688.8"/>
<line x1="325.10" y1="683.5" x2="325.10" y2="688.8"/>
<line x1="355.05" y1="683.5" x2="355.05" y2="688.8"/>
<line x1="385.00" y1="683.5" x2="385.00" y2="688.8"/>
<line x1="416.40" y1="681.0" x2="416.40" y2="691.7"/>
<line x1="446.35" y1="683.5" x2="446.35" y2="688.8"/>
<line x1="476.30" y1="683.5" x2="476.30" y2="688.8"/>
<line x1="506.25" y1="683.5" x2="506.25" y2="688.8"/>
<line x1="536.20" y1="683.5" x2="536.20" y2="688.8"/>
<line x1="567.60" y1="681.0" x2="567.60" y2="691.7"/>
<line x1="597.55" y1="683.5" x2="597.55" y2="688.8"/>
<line x1="627.50" y1="683.5" x2="627.50" y2="688.8"/>
<line x1="657.45" y1="683.5" x2="657.45" y2="688.8"/>
<line x1="687.40" y1="683.5" x2="687.40" y2="688.8"/>
<line x1="718.80" y1="681.0" x2="718.80" y2="691.7"/>
<line x1="748.75" y1="683.5" x2="748.75" y2="688.8"/>
<line x1="778.70" y1="683.5" x2="778.70" y2="688.8"/>
<line x1="808.65" y1="683.5" x2="808.65" y2="688.8"/>
<line x1="838.60" y1="683.5" x2="838.60" y2="688.8"/>
<line x1="870.00" y1="681.0" x2="870.00" y2="691.7"/>
<line x1="899.95" y1="683.5" x2="899.95" y2="688.8"/>
<line x1="929.90" y1="683.5" x2="929.90" y2="688.8"/>
<line x1="959.85" y1="683.5" x2="959.85" y2="688.8"/>
<line x1="989.80" y1="683.5" x2="989.80" y2="688.8"/>
<line x1="1021.00" y1="681.0" x2="1021.00" y2="691.7"/>
<line x1="1050.95" y1="683.5" x2="1050.95" y2="688.8"/>
<line x1="1080.90" y1="683.5" x2="1080.90" y2="688.8"/>
<line x1="1110.85" y1="683.5" x2="1110.85" y2="688.8"/>
<line x1="1142.10" y1="683.5" x2="1142.10" y2="688.8"/>
<line x1="1172.30" y1="681.0" x2="1172.30" y2="691.7"/>
<line x1="82.5" y1="683.5" x2="82.5" y2="688.8"/>
<line x1="55.3" y1="683.50" x2="65.5" y2="683.50"/>
<line x1="58.0" y1="656.40" x2="63.3" y2="656.40"/>
<line x1="58.0" y1="629.30" x2="63.3" y2="629.30"/>
<line x1="58.0" y1="602.20" x2="63.3" y2="602.20"/>
<line x1="58.0" y1="575.10" x2="63.3" y2="575.10"/>
<line x1="55.3" y1="548.00" x2="65.5" y2="548.00"/>
<line x1="58.0" y1="520.90" x2="63.3" y2="520.90"/>
<line x1="58.0" y1="493.80" x2="63.3" y2="493.80"/>
<line x1="58.0" y1="466.70" x2="63.3" y2="466.70"/>
<line x1="58.0" y1="439.60" x2="63.3" y2="439.60"/>
<line x1="55.3" y1="412.50" x2="65.5" y2="412.50"/>
<line x1="58.0" y1="385.40" x2="63.3" y2="385.40"/>
<line x1="58.0" y1="358.30" x2="63.3" y2="358.30"/>
<line x1="58.0" y1="331.20" x2="63.3" y2="331.20"/>
<line x1="58.0" y1="304.10" x2="63.3" y2="304.10"/>
<line x1="55.3" y1="277.00" x2="65.5" y2="277.00"/>
<line x1="58.0" y1="249.90" x2="63.3" y2="249.90"/>
<line x1="58.0" y1="222.80" x2="63.3" y2="222.80"/>
<line x1="58.0" y1="195.70" x2="63.3" y2="195.70"/>
<line x1="58.0" y1="168.60" x2="63.3" y2="168.60"/>
<line x1="55.3" y1="141.50" x2="65.5" y2="141.50"/>
<line x1="58.0" y1="114.40" x2="63.3" y2="114.40"/>
<line x1="58.0" y1="87.30" x2="63.3" y2="87.30"/>
<line x1="58.0" y1="60.20" x2="63.3" y2="60.20"/>
<line x1="58.0" y1="33.10" x2="63.3" y2="33.10"/>
<line x1="55.3" y1="6.00" x2="65.5" y2="6.00"/>
</g>
<g font-size="13.4px" fill="#444444" stroke="#444444" stroke-width="0.25" filter="url(#idf)">
<text x="112.60" y="708.7" text-anchor="middle">0</text>
<text x="265.20" y="708.7" text-anchor="middle">1000</text>
<text x="416.40" y="708.7" text-anchor="middle">2000</text>
<text x="567.60" y="708.7" text-anchor="middle">3000</text>
<text x="718.80" y="708.7" text-anchor="middle">4000</text>
<text x="870.00" y="708.7" text-anchor="middle">5000</text>
<text x="1021.00" y="708.7" text-anchor="middle">6000</text>
<text x="1172.30" y="708.7" text-anchor="middle">7000</text>
<text x="48.3" y="688.40" text-anchor="end">0</text>
<text x="48.3" y="552.90" text-anchor="end">0.2</text>
<text x="48.3" y="417.40" text-anchor="end">0.4</text>
<text x="48.3" y="281.90" text-anchor="end">0.6</text>
<text x="48.3" y="146.40" text-anchor="end">0.8</text>
<text x="48.3" y="10.90" text-anchor="end">1</text>
</g>
<g font-size="17.33px" fill="#444444" font-style="italic" stroke="#444444" stroke-width="0.3" filter="url(#idf)">
<text x="629.2" y="733.3" text-anchor="middle">Distance (m)</text>
<text transform="translate(20.9,344.2) rotate(-90)" text-anchor="middle">Average/Peak Drive Force Ratio</text>
</g>
</svg>
</body></html>
